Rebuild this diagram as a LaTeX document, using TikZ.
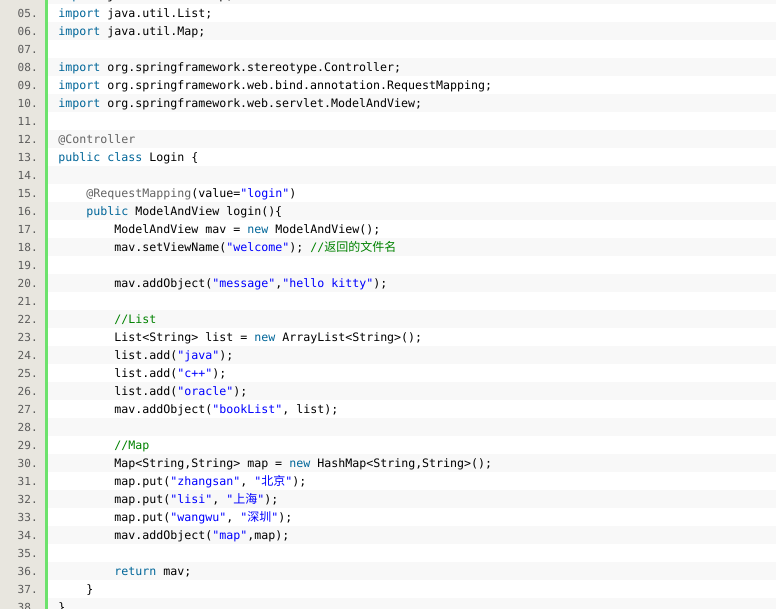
\documentclass[tikz,border=0pt]{standalone}
\usepackage{fontspec}
\setmonofont{DejaVu Sans Mono}
\newfontfamily\cjk{Noto Sans CJK SC}
\definecolor{kwc}{HTML}{006699}
\definecolor{strc}{HTML}{0000FF}
\definecolor{cmc}{HTML}{008200}
\definecolor{anc}{HTML}{646464}
\definecolor{numc}{HTML}{5C5C5C}
\definecolor{gutterbg}{HTML}{E8E6DF}
\definecolor{gutterbar}{HTML}{6CE26C}
\definecolor{rowgray}{HTML}{F8F8F8}
\newcommand\jkw[1]{\textcolor{kwc}{#1}}
\newcommand\jstr[1]{\textcolor{strc}{#1}}
\newcommand\jcm[1]{\textcolor{cmc}{#1}}
\newcommand\jan[1]{\textcolor{anc}{#1}}
\newcommand\zh[1]{{\cjk\fontsize{9pt}{10pt}\selectfont #1}}
\begin{document}
\begin{tikzpicture}[x=0.75pt,y=-0.75pt,
  codeline/.style={anchor=base west,inner sep=0pt,text=black,
    font=\ttfamily\fontsize{8.72pt}{10pt}\selectfont},
  numline/.style={anchor=base east,inner sep=0pt,text=numc,
    font=\ttfamily\fontsize{8.3pt}{10pt}\selectfont}]
\useasboundingbox (0,0) rectangle (776,609);
\clip (0,0) rectangle (776,609);
% backgrounds
\fill[white] (48,0) rectangle (776,609);
\foreach \n in {4,6,...,38} {
  \fill[rowgray] (48,{4+(\n-5)*18}) rectangle (776,{22+(\n-5)*18});
}
\fill[gutterbg] (0,0) rectangle (45,609);
\fill[gutterbar] (45,0) rectangle (48,609);
% line numbers
\foreach \n in {4,...,38} {
  \pgfmathtruncatemacro{\b}{17.5+(\n-5)*18}
  \ifnum\n<10
    \node[numline] (n\n) at (38,{17.5+(\n-5)*18}) {0\n.};
  \else
    \node[numline] (n\n) at (38,{17.5+(\n-5)*18}) {\n.};
  \fi
}
% code lines (baseline = 17.5 + (n-5)*18)
\node[codeline] (l04) at (58,-0.5)  {\jkw{import} java.util.HashMap;};
\node[codeline] (l05) at (58,17.5)  {\jkw{import} java.util.List;};
\node[codeline] (l06) at (58,35.5)  {\jkw{import} java.util.Map;};
\node[codeline] (l08) at (58,71.5)  {\jkw{import} org.springframework.stereotype.Controller;};
\node[codeline] (l09) at (58,89.5)  {\jkw{import} org.springframework.web.bind.annotation.RequestMapping;};
\node[codeline] (l10) at (58,107.5) {\jkw{import} org.springframework.web.servlet.ModelAndView;};
\node[codeline] (l12) at (58,143.5) {\jan{@Controller}};
\node[codeline] (l13) at (58,161.5) {\jkw{public} \jkw{class} Login \{};
\node[codeline] (l15) at (86,197.5) {\jan{@RequestMapping}(value=\jstr{"login"})};
\node[codeline] (l16) at (86,215.5) {\jkw{public} ModelAndView login()\{};
\node[codeline] (l17) at (114,233.5) {ModelAndView mav = \jkw{new} ModelAndView();};
\node[codeline] (l18) at (114,251.5) {mav.setViewName(\jstr{"welcome"}); \jcm{//\zh{返回的文件名}}};
\node[codeline] (l20) at (114,287.5) {mav.addObject(\jstr{"message"},\jstr{"hello kitty"});};
\node[codeline] (l22) at (114,323.5) {\jcm{//List}};
\node[codeline] (l23) at (114,341.5) {List<String> list = \jkw{new} ArrayList<String>();};
\node[codeline] (l24) at (114,359.5) {list.add(\jstr{"java"});};
\node[codeline] (l25) at (114,377.5) {list.add(\jstr{"c++"});};
\node[codeline] (l26) at (114,395.5) {list.add(\jstr{"oracle"});};
\node[codeline] (l27) at (114,413.5) {mav.addObject(\jstr{"bookList"}, list);};
\node[codeline] (l29) at (114,449.5) {\jcm{//Map}};
\node[codeline] (l30) at (114,467.5) {Map<String,String> map = \jkw{new} HashMap<String,String>();};
\node[codeline] (l31) at (114,485.5) {map.put(\jstr{"zhangsan"}, \jstr{"\zh{北京}"});};
\node[codeline] (l32) at (114,503.5) {map.put(\jstr{"lisi"}, \jstr{"\zh{上海}"});};
\node[codeline] (l33) at (114,521.5) {map.put(\jstr{"wangwu"}, \jstr{"\zh{深圳}"});};
\node[codeline] (l34) at (114,539.5) {mav.addObject(\jstr{"map"},map);};
\node[codeline] (l36) at (114,575.5) {\jkw{return} mav;};
\node[codeline] (l37) at (86,593.5) {\}};
\node[codeline] (l38) at (58,611.5) {\}};
\end{tikzpicture}
\end{document}
